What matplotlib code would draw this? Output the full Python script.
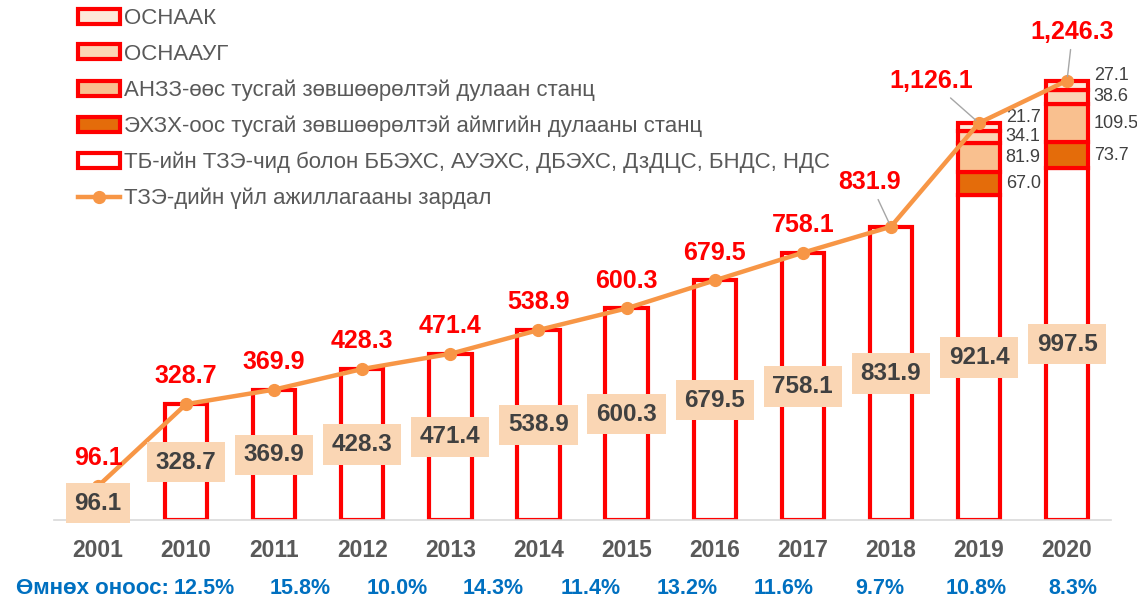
import numpy as np
import matplotlib
matplotlib.use("Agg")
from matplotlib import pyplot as plt
from matplotlib.patches import Patch
from matplotlib.lines import Line2D

plt.rcParams['font.family'] = ['Liberation Sans', 'DejaVu Sans']

years = ['2001', '2010', '2011', '2012', '2013', '2014', '2015', '2016', '2017', '2018', '2019', '2020']
base = [96.1, 328.7, 369.9, 428.3, 471.4, 538.9, 600.3, 679.5, 758.1, 831.9, 921.4, 997.5]
exzx = [0, 0, 0, 0, 0, 0, 0, 0, 0, 0, 67.0, 73.7]
anzz = [0, 0, 0, 0, 0, 0, 0, 0, 0, 0, 81.9, 109.5]
osnaaug = [0, 0, 0, 0, 0, 0, 0, 0, 0, 0, 34.1, 38.6]
osnaak = [0, 0, 0, 0, 0, 0, 0, 0, 0, 0, 21.7, 27.1]
total = [96.1, 328.7, 369.9, 428.3, 471.4, 538.9, 600.3, 679.5, 758.1, 831.9, 1126.1, 1246.3]
growth = ['12.5%', '15.8%', '10.0%', '14.3%', '11.4%', '13.2%', '11.6%', '9.7%', '10.8%', '8.3%']

names = ['ОСНААК', 'ОСНААУГ', 'АНЗЗ-өөс тусгай зөвшөөрөлтэй дулаан станц',
         'ЭХЗХ-оос тусгай зөвшөөрөлтэй аймгийн дулааны станц',
         'ТБ-ийн ТЗЭ-чид болон ББЭХС, АУЭХС, ДБЭХС, ДзДЦС, БНДС, НДС',
         'ТЗЭ-дийн үйл ажиллагааны зардал']

RED = '#FF0000'
ORANGE = '#F79646'
GREY = '#404040'
colors = {'osnaak': '#FDE9D9', 'osnaaug': '#FBD5B5', 'anzz': '#F9C08F', 'exzx': '#E46C0A'}

fig = plt.figure(figsize=(11.37, 6.01), dpi=100)
ax = fig.add_axes([0.0475, 0.1348, 0.9297, 0.8652])

x = np.arange(len(years))
w = 0.48
lw = 3

ax.bar(x, base, w, color='white', edgecolor=RED, linewidth=lw, zorder=2)

# stacked parts only exist for 2019 and 2020
bottom = np.array(base, dtype=float)
for key, vals in [('exzx', exzx), ('anzz', anzz), ('osnaaug', osnaaug), ('osnaak', osnaak)]:
    vals = np.array(vals, dtype=float)
    m = vals > 0
    ax.bar(x[m], vals[m], w, bottom=bottom[m], color=colors[key], edgecolor=RED,
           linewidth=lw, zorder=2)
    for xi, v, b in zip(x[m], vals[m], bottom[m]):
        dy = 7 if key == 'osnaak' else 0
        ax.annotate(f'{v:.1f}', (xi + w / 2, b + v / 2), xytext=(4, dy),
                    textcoords='offset points', ha='left', va='center',
                    fontsize=13, color=GREY)
    bottom = bottom + vals

ax.plot(x, total, color=ORANGE, lw=3.2, marker='o', ms=8.5, zorder=4)

# base value boxes
for xi, v in zip(x, base):
    ax.text(xi, v / 2, f'{v:.1f}', ha='center', va='center', fontsize=17.5,
            fontweight='bold', color=GREY, zorder=5,
            bbox=dict(boxstyle='square,pad=0.36', fc='#FAD6B4', ec='none'))

# total labels
special = {9: (-15, 32), 10: (-34, 30), 11: (4, 35)}
for i, (xi, v) in enumerate(zip(x, total)):
    lab = f'{v:,.1f}'
    if i in special:
        ax.annotate(lab, (xi, v), xytext=special[i], textcoords='offset points',
                    ha='center', va='center', fontsize=18, fontweight='bold',
                    color=RED, zorder=6,
                    arrowprops=dict(arrowstyle='-', color='#A6A6A6', lw=1,
                                    shrinkA=2, shrinkB=3))
    else:
        ax.annotate(lab, (xi, v), xytext=(0, 20), textcoords='offset points',
                    ha='center', va='center', fontsize=18, fontweight='bold',
                    color=RED, zorder=6)

ax.set_xlim(-0.5, 11.5)
ax.set_ylim(0, 1475)
ax.set_xticks(x)
ax.set_xticklabels(years, fontsize=16.5, fontweight='bold', color='#595959')
ax.tick_params(axis='x', length=0, pad=14)
ax.set_yticks([])
for s in ['top', 'right', 'left']:
    ax.spines[s].set_visible(False)
ax.spines['bottom'].set_color('#D9D9D9')
ax.spines['bottom'].set_linewidth(1.2)

handles = [
    Patch(facecolor=colors['osnaak'], edgecolor=RED, linewidth=lw),
    Patch(facecolor=colors['osnaaug'], edgecolor=RED, linewidth=lw),
    Patch(facecolor=colors['anzz'], edgecolor=RED, linewidth=lw),
    Patch(facecolor=colors['exzx'], edgecolor=RED, linewidth=lw),
    Patch(facecolor='white', edgecolor=RED, linewidth=lw),
    Line2D([], [], color=ORANGE, lw=3.2, marker='o', ms=8.5),
]
leg = fig.legend(handles, names, loc='upper left', bbox_to_anchor=(78 / 1137, 1 - 8 / 601),
                 frameon=False, fontsize=16, handlelength=1.88, handleheight=0.66,
                 handletextpad=0.18, labelspacing=0.66, borderpad=0, borderaxespad=0)
for t in leg.get_texts():
    t.set_color('#595959')

# growth row
fig.text(16 / 1137, 1 - 588 / 601, 'Өмнөх оноос:', ha='left', va='center',
         fontsize=16, fontweight='bold', color='#0070C0')
gx = np.linspace(204, 1073, len(growth)) / 1137
for gxi, g in zip(gx, growth):
    fig.text(gxi, 1 - 588 / 601, g, ha='center', va='center', fontsize=15.5,
             fontweight='bold', color='#0070C0')

fig.savefig('out.png', dpi=100)
